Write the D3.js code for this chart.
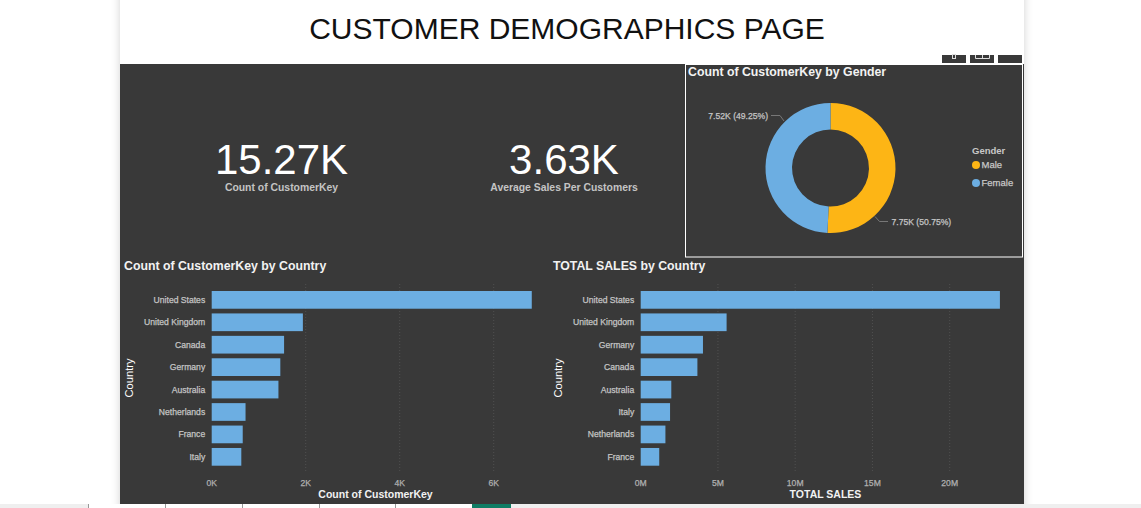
<!DOCTYPE html>
<html>
<head>
<meta charset="utf-8">
<script src="https://cdn.jsdelivr.net/npm/d3@7"></script>
<style>
  html, body { margin: 0; padding: 0; background: #fff; overflow: hidden; }
  text { font-family: "Liberation Sans", Arial, sans-serif; }
  .soft { stroke-width: 0.25; paint-order: stroke; }
</style>
</head>
<body>
<script>
// Bar chart data
const customerCountries = ["United States", "United Kingdom", "Canada", "Germany", "Australia", "Netherlands", "France", "Italy"];
const customerCounts = [6810, 1940, 1540, 1460, 1420, 720, 660, 630];
const customerTicks = [0, 2000, 4000, 6000];

const salesCountries = ["United States", "United Kingdom", "Germany", "Canada", "Australia", "Italy", "Netherlands", "France"];
const salesValues = [23.25e6, 5.56e6, 4.03e6, 3.67e6, 1.98e6, 1.9e6, 1.6e6, 1.2e6];
const salesTicks = [0, 5e6, 10e6, 15e6, 20e6];

// Donut data
const genders = ["Male", "Female"];
const genderCounts = [7750, 7520];
const genderLabels = ["7.75K (50.75%)", "7.52K (49.25%)"];
const genderColors = ["#fdb515", "#6caee2"];

const panelColor = "#393939";
const barColor = "#6caee2";

const svg = d3.select("body").append("svg").attr("width", 1141).attr("height", 508);

// Page background with soft shadow at the sides
const defs = svg.append("defs");
const shadow = defs.append("filter").attr("id", "shadow").attr("x", "-5%").attr("width", "110%");
shadow.append("feDropShadow").attr("dx", 0).attr("dy", 0).attr("stdDeviation", 4).attr("flood-color", "#000").attr("flood-opacity", 0.18);

svg.append("rect").attr("x", 120).attr("y", -10).attr("width", 904).attr("height", 530)
  .attr("fill", "#fff").attr("filter", "url(#shadow)");

svg.append("text").attr("x", 567).attr("y", 39).attr("text-anchor", "middle")
  .attr("font-size", 30).attr("fill", "#111").text("CUSTOMER DEMOGRAPHICS PAGE");

svg.append("rect").attr("x", 120).attr("y", 64).attr("width", 904).attr("height", 440).attr("fill", panelColor);

// Small header buttons above the gender panel
[942, 970, 998].forEach((x) => {
  svg.append("rect").attr("x", x).attr("y", 55).attr("width", 24).attr("height", 8).attr("fill", panelColor);
});
svg.append("rect").attr("x", 952.5).attr("y", 54.5).attr("width", 3).attr("height", 4)
  .attr("fill", "none").attr("stroke", "#ddd");
svg.append("path").attr("d", "M975.5,55 V58.5 H989.5 V55 M982.5,55 V58.5")
  .attr("fill", "none").attr("stroke", "#ddd");

// KPI cards
function card(cx, value, label) {
  svg.append("text").attr("x", cx).attr("y", 173.5).attr("text-anchor", "middle")
    .attr("font-size", 42).attr("fill", "#fff").text(value);
  svg.append("text").attr("x", cx).attr("y", 191).attr("text-anchor", "middle")
    .attr("font-size", 10.4).attr("font-weight", "bold").attr("fill", "#c4c4c4").text(label);
}
card(281.5, "15.27K", "Count of CustomerKey");
card(564, "3.63K", "Average Sales Per Customers");

// Horizontal bar chart panel
function barChart(opts) {
  const x = d3.scaleLinear().domain(opts.domain).range(opts.range);
  const y = d3.scaleBand().domain(opts.categories).range([291, 465.7]).paddingInner(0.21);
  const g = svg.append("g");

  g.append("text").attr("x", opts.titleX).attr("y", 270).attr("font-size", 12.3)
    .attr("font-weight", "bold").attr("fill", "#f2f2f2").text(opts.title);

  // dotted gridlines
  g.selectAll("line.grid").data(opts.ticks.filter((d) => d > 0)).join("line")
    .attr("class", "grid")
    .attr("x1", (d) => x(d)).attr("x2", (d) => x(d))
    .attr("y1", 284).attr("y2", 472)
    .attr("stroke", "#505050").attr("stroke-dasharray", "1,2");

  g.selectAll("rect.bar").data(opts.values).join("rect")
    .attr("class", "bar")
    .attr("x", x(0))
    .attr("y", (d, i) => y(opts.categories[i]))
    .attr("width", (d) => x(d) - x(0))
    .attr("height", y.bandwidth())
    .attr("fill", barColor);

  g.selectAll("text.cat").data(opts.categories).join("text")
    .attr("class", "cat soft")
    .attr("x", x(0) - 6.5)
    .attr("y", (d) => y(d) + y.bandwidth() / 2 + 3)
    .attr("text-anchor", "end").attr("font-size", 8.6).attr("fill", "#c4c4c4").attr("stroke", "#c4c4c4")
    .text((d) => d);

  g.selectAll("text.tick").data(opts.ticks).join("text")
    .attr("class", "tick soft")
    .attr("x", (d) => x(d)).attr("y", 486)
    .attr("text-anchor", "middle").attr("font-size", 8.6).attr("fill", "#b0b0b0").attr("stroke", "#b0b0b0")
    .text(opts.tickFormat);

  g.append("text").attr("x", opts.axisX).attr("y", 498).attr("text-anchor", "middle")
    .attr("font-size", 10.5).attr("font-weight", "bold").attr("fill", "#f2f2f2").text(opts.axisTitle);

  g.append("text")
    .attr("transform", `translate(${opts.titleX + 9},378) rotate(-90)`)
    .attr("text-anchor", "middle").attr("font-size", 11.2).attr("fill", "#fff").text("Country");
}

barChart({
  title: "Count of CustomerKey by Country",
  titleX: 124,
  categories: customerCountries,
  values: customerCounts,
  ticks: customerTicks,
  domain: [0, 6000],
  range: [211.7, 493.7],
  tickFormat: (d) => d / 1000 + "K",
  axisTitle: "Count of CustomerKey",
  axisX: 375.5,
});

barChart({
  title: "TOTAL SALES by Country",
  titleX: 553,
  categories: salesCountries,
  values: salesValues,
  ticks: salesTicks,
  domain: [0, 20e6],
  range: [640.7, 949.7],
  tickFormat: (d) => d / 1e6 + "M",
  axisTitle: "TOTAL SALES",
  axisX: 825.5,
});

// Gender donut panel
svg.append("rect").attr("x", 685.5).attr("y", 64.5).attr("width", 337).attr("height", 192.5)
  .attr("fill", "none").attr("stroke", "#fff").attr("stroke-width", 1);
svg.append("text").attr("x", 688).attr("y", 75.5).attr("font-size", 12.3).attr("font-weight", "bold")
  .attr("fill", "#f2f2f2").text("Count of CustomerKey by Gender");

const pie = d3.pie().sort(null)(genderCounts);
const arc = d3.arc().innerRadius(38.5).outerRadius(65);
const donut = svg.append("g").attr("transform", "translate(830.5,168)");
donut.selectAll("path").data(pie).join("path")
  .attr("d", arc)
  .attr("fill", (d, i) => genderColors[i]);

// Leader lines and labels
const labelPos = [
  { path: "M875,216.5 L879.5,221.5 L888,221.5", x: 891.5, y: 225, anchor: "start" },
  { path: "M784,121 L780,115.5 L771,115.5", x: 768, y: 119, anchor: "end" },
];
genderLabels.forEach((t, i) => {
  svg.append("path").attr("d", labelPos[i].path).attr("fill", "none").attr("stroke", "#777");
  svg.append("text").attr("class", "soft").attr("x", labelPos[i].x).attr("y", labelPos[i].y)
    .attr("text-anchor", labelPos[i].anchor).attr("font-size", 8.6)
    .attr("fill", "#c4c4c4").attr("stroke", "#c4c4c4").text(t);
});

// Legend
svg.append("text").attr("x", 972).attr("y", 154).attr("font-size", 9.5).attr("font-weight", "bold")
  .attr("fill", "#c8c8c8").text("Gender");
genders.forEach((g, i) => {
  const ly = [165, 183][i];
  svg.append("circle").attr("cx", 976).attr("cy", ly).attr("r", 4).attr("fill", genderColors[i]);
  svg.append("text").attr("class", "soft").attr("x", 981.5).attr("y", ly + 3).attr("font-size", 9.5)
    .attr("fill", "#c8c8c8").attr("stroke", "#c8c8c8").text(g);
});

// Bottom tab strip
svg.append("rect").attr("x", 0).attr("y", 504).attr("width", 1141).attr("height", 4).attr("fill", "#fff");
svg.append("rect").attr("x", 0).attr("y", 504).attr("width", 88).attr("height", 4).attr("fill", "#efefef");
svg.append("rect").attr("x", 511).attr("y", 504).attr("width", 630).attr("height", 4).attr("fill", "#efefef");
svg.append("rect").attr("x", 472).attr("y", 504).attr("width", 39).attr("height", 4).attr("fill", "#107c64");
[88, 165, 242, 319, 395].forEach((x) => {
  svg.append("line").attr("x1", x + 0.5).attr("x2", x + 0.5).attr("y1", 504).attr("y2", 508).attr("stroke", "#999");
});
</script>
</body>
</html>
